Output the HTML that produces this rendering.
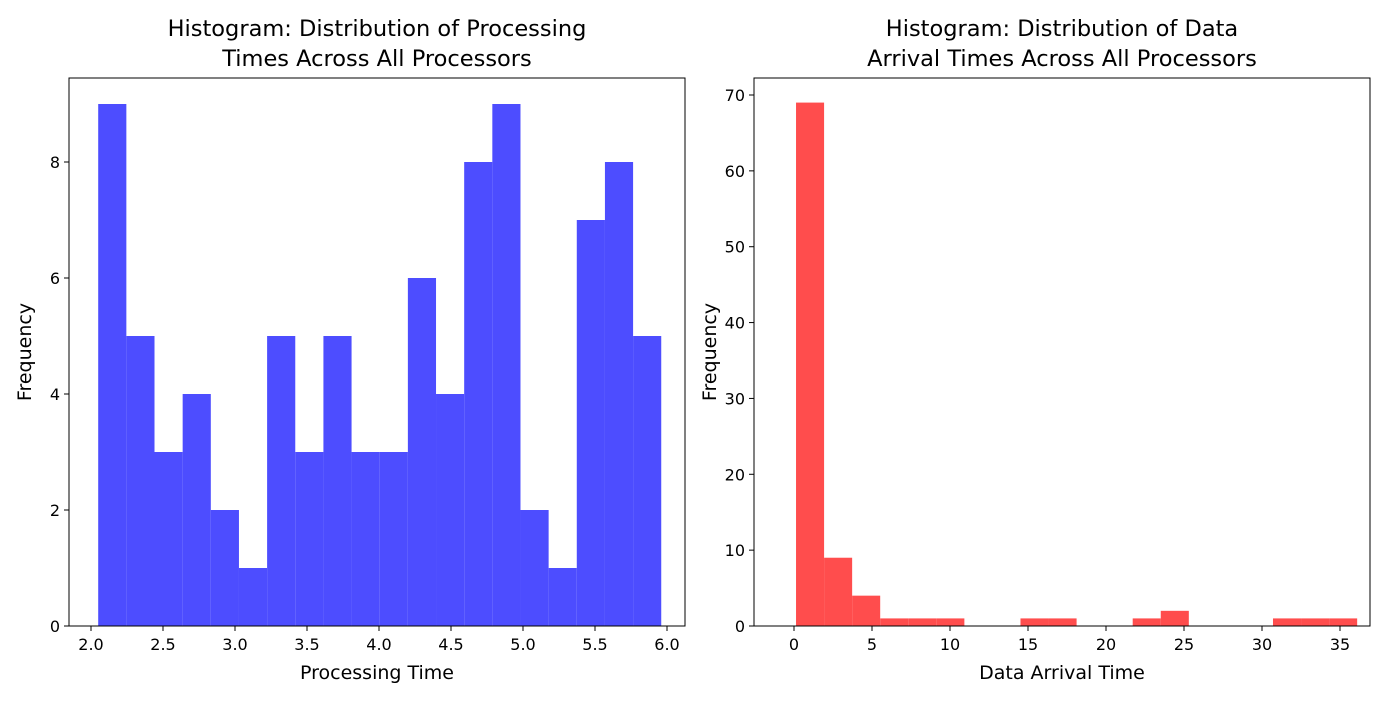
<!DOCTYPE html>
<html><head><meta charset="utf-8"><style>
body{margin:0;background:#fff;font-family:"Liberation Sans","DejaVu Sans",sans-serif}
svg text{font-family:"DejaVu Sans","Liberation Sans",sans-serif;fill:#000}
</style></head><body>
<svg id="c" width="1400" height="700"></svg>
<script>
const leftValues=[9,5,3,4,2,1,5,3,5,3,3,6,4,8,9,2,1,7,8,5];
const leftRange=[2.05,5.96];
const leftXTicks=[2.0,2.5,3.0,3.5,4.0,4.5,5.0,5.5,6.0];
const leftYTicks=[0,2,4,6,8];
const rightValues=[69,9,4,1,1,1,0,0,1,1,0,0,1,2,0,0,0,1,1,1];
const rightRange=[0.13,36.1];
const rightXTicks=[0,5,10,15,20,25,30,35];
const rightYTicks=[0,10,20,30,40,50,60,70];
const NS="http://www.w3.org/2000/svg";
const svg=document.getElementById('c');
function mk(tag,attrs,parent){const e=document.createElementNS(NS,tag);for(const k in attrs)e.setAttribute(k,attrs[k]);(parent||svg).appendChild(e);return e;}
function panel(o){
  const g=mk('g',{});
  
  
  const sx=v=>o.x0+(v-o.xd[0])/(o.xd[1]-o.xd[0])*(o.x1-o.x0);
  const sy=v=>o.y0-(v-o.yd[0])/(o.yd[1]-o.yd[0])*(o.y0-o.y1);
  const n=o.values.length,w=(o.range[1]-o.range[0])/n;
  o.values.forEach((v,i)=>{if(!v)return;
    const r=mk('rect',{x:sx(o.range[0]+i*w),y:sy(v),width:sx(o.range[0]+(i+1)*w)-sx(o.range[0]+i*w),height:sy(0)-sy(v),fill:o.color},g);
    
    });
  const f=mk('rect',{x:o.bx0,y:o.by0,width:o.bx1-o.bx0,height:o.by1-o.by0,fill:'none',stroke:'#000','stroke-width':1},g);
  
  
  o.xt.forEach(t=>{const x=sx(t);mk('line',{x1:x,x2:x,y1:o.by1,y2:o.by1+5,stroke:'#000'},g);
    const tx=mk('text',{x:x,y:o.by1+24,'text-anchor':'middle','font-size':16},g);tx.textContent=o.xf(t);
    
    });
  o.yt.forEach(t=>{const y=sy(t);mk('line',{x1:o.bx0-5,x2:o.bx0,y1:y,y2:y,stroke:'#000'},g);
    const tx=mk('text',{x:o.bx0-9,y:y+6,'text-anchor':'end','font-size':16},g);tx.textContent=t;
    
    });
  const cx=(o.bx0+o.bx1)/2;
  const xl=mk('text',{x:cx,y:679,'text-anchor':'middle','font-size':19},g);xl.textContent=o.xlabel;
  
  
  const yl=mk('text',{x:0,y:0,'text-anchor':'middle','font-size':19,transform:`translate(${o.bx0-38},${(o.by0+o.by1)/2}) rotate(-90)`},g);yl.textContent='Frequency';
  
  
  o.title.forEach((t,i)=>{const tt=mk('text',{x:cx,y:36+i*30,'text-anchor':'middle','font-size':22.5},g);tt.textContent=t;
    
    });
}
panel({name:'processing-time-histogram',values:leftValues,range:leftRange,color:'#4d4dff',
  x0:91,x1:667,xd:[2,6],y0:626,y1:162,yd:[0,8],bx0:69,bx1:685,by0:78,by1:626,
  xt:leftXTicks,yt:leftYTicks,xf:t=>t.toFixed(1),xlabel:'Processing Time',
  title:['Histogram: Distribution of Processing','Times Across All Processors']});
panel({name:'arrival-time-histogram',values:rightValues,range:rightRange,color:'#ff4d4d',
  x0:794,x1:1340,xd:[0,35],y0:626,y1:95,yd:[0,70],bx0:754,bx1:1370,by0:78,by1:626,
  xt:rightXTicks,yt:rightYTicks,xf:t=>String(t),xlabel:'Data Arrival Time',
  title:['Histogram: Distribution of Data','Arrival Times Across All Processors']});
</script>
</body></html>
